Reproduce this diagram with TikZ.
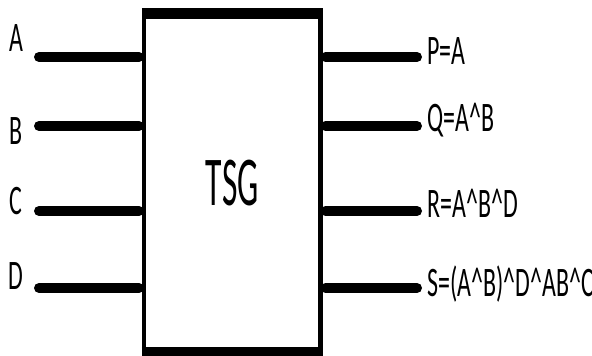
\documentclass[tikz,border=0pt]{standalone}
\usepackage{fontspec}
\usepackage{tikz}
\usetikzlibrary{positioning}
\newfontfamily\pinfont[FakeStretch=0.57]{Carlito}
\newfontfamily\gatefont[FakeStretch=0.48]{Carlito}

\begin{document}
\begin{tikzpicture}[
 x=0.5pt, y=-0.5pt,
 box/.style={rectangle, draw, line width=2.25pt, outer sep=0pt, inner sep=0pt, minimum width=88.25pt, minimum height=169.35pt},
 edge/.style={line width=5.5pt, shorten <=-1.1pt, shorten >=-1.1pt},
 wire/.style={line width=5pt, line cap=round, shorten <=2.5pt},
 pinlabel/.style={font=\pinfont\fontsize{21}{21}\selectfont, inner sep=0pt}
 ]
 \useasboundingbox (0,0) rectangle (592,356);
 % Nodes
 \node[box] (tsg) at (232.25,183.15) {\gatefont\fontsize{35}{35}\selectfont TSG};
 \coordinate (inA) at (39,57);
 \coordinate (inB) at (39,126);
 \coordinate (inC) at (39,211);
 \coordinate (inD) at (39,288);
 \coordinate (outP) at (417,57);
 \coordinate (outQ) at (417,126);
 \coordinate (outR) at (417,211);
 \coordinate (outS) at (417,288);
 \node[pinlabel, anchor=base] (labA) at (16,52) {A};
 \node[pinlabel, anchor=base] (labB) at (16,145) {B};
 \node[pinlabel, anchor=base] (labC) at (16,215) {C};
 \node[pinlabel, anchor=base] (labD) at (16,290) {D};
 \node[pinlabel, anchor=base west] (labP) at (427,65) {P=A};
 \node[pinlabel, anchor=base west] (labQ) at (427,132) {Q=A\^{}B};
 \node[pinlabel, anchor=base west] (labR) at (427,218) {R=A\^{}B\^{}D};
 \node[pinlabel, anchor=base west] (labS) at (427,297) {S=(A\^{}B)\^{}D\^{}AB\^{}C};
 % Box top and bottom
 \draw[edge] (tsg.north west) -- (tsg.north east);
 \draw[edge] (tsg.south west) -- (tsg.south east);
 % Wires
 \foreach \p in {A,B,C,D}
  \draw[wire] (in\p -| tsg.west) -- (in\p);
 \foreach \p in {P,Q,R,S}
  \draw[wire] (out\p -| tsg.east) -- (out\p);
\end{tikzpicture}
\end{document}
